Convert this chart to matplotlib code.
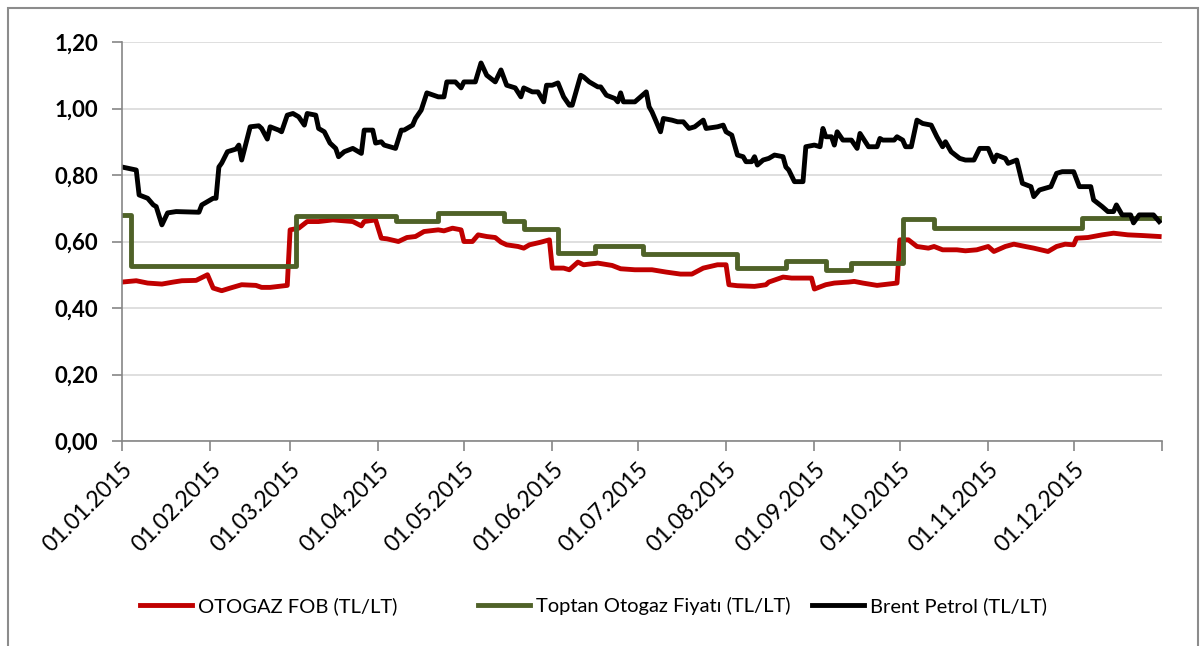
import numpy as np
import pandas as pd
import matplotlib
matplotlib.use("Agg")
import matplotlib.pyplot as plt
from matplotlib.patches import Rectangle

# gun sayisi (01.01.2015'ten itibaren) ve degerler
fob_gun = [0, 5, 9, 14, 18, 21, 26, 30, 32, 35, 38, 42, 47, 49, 52, 58, 59, 62, 65, 69,
           74, 81, 84, 85, 89, 91, 93, 97, 100, 103, 106, 111, 113, 116, 119, 120, 123,
           125, 128, 131, 133, 135, 139, 141, 143, 147, 150, 151, 155, 157, 160, 162,
           167, 172, 175, 180, 186, 191, 196, 200, 204, 209, 212, 213, 216, 222, 226,
           227, 232, 235, 242, 243, 247, 250, 255, 257, 260, 265, 272, 273, 276, 279,
           283, 285, 288, 293, 296, 300, 304, 306, 310, 313, 317, 320, 325, 328, 331,
           334, 335, 339, 344, 348, 353, 358, 364]
fob_deger = [0.478, 0.482, 0.475, 0.472, 0.478, 0.482, 0.483, 0.500, 0.460, 0.452, 0.460,
             0.470, 0.468, 0.462, 0.462, 0.468, 0.635, 0.640, 0.660, 0.660, 0.665, 0.660,
             0.647, 0.660, 0.665, 0.610, 0.608, 0.600, 0.612, 0.615, 0.630, 0.635, 0.632,
             0.640, 0.635, 0.600, 0.600, 0.620, 0.615, 0.612, 0.598, 0.590, 0.585, 0.580,
             0.590, 0.598, 0.605, 0.520, 0.520, 0.515, 0.538, 0.530, 0.535, 0.528, 0.518,
             0.515, 0.515, 0.508, 0.502, 0.502, 0.520, 0.530, 0.530, 0.470, 0.467, 0.465,
             0.470, 0.478, 0.493, 0.490, 0.490, 0.457, 0.470, 0.475, 0.478, 0.480, 0.475,
             0.468, 0.475, 0.605, 0.605, 0.585, 0.580, 0.585, 0.575, 0.575, 0.572, 0.575,
             0.585, 0.570, 0.585, 0.592, 0.585, 0.580, 0.570, 0.585, 0.592, 0.590, 0.610,
             0.612, 0.620, 0.625, 0.620, 0.618, 0.615]

toptan_gun = [0, 3, 61, 96, 111, 134, 141, 153, 166, 183, 216, 233, 247, 256, 274, 285,
              337, 364]
toptan_deger = [0.680, 0.526, 0.677, 0.662, 0.686, 0.662, 0.638, 0.565, 0.587, 0.562,
                0.520, 0.542, 0.515, 0.535, 0.668, 0.641, 0.671, 0.671]

brent_gun = [0, 5, 6, 9, 11, 12, 14, 16, 19, 27, 28, 32, 33, 34, 35, 37, 40, 41, 42, 45,
             48, 49, 51, 52, 55, 56, 58, 60, 62, 64, 65, 68, 69, 71, 73, 75, 76, 78, 81,
             82, 84, 85, 88, 89, 91, 92, 96, 98, 99, 102, 103, 105, 107, 111, 113, 114,
             117, 119, 120, 124, 126, 128, 131, 133, 135, 138, 140, 141, 144, 146, 148,
             149, 151, 153, 155, 157, 158, 161, 162, 164, 167, 168, 170, 173, 174, 175,
             176, 180, 182, 184, 185, 186, 189, 190, 193, 195, 197, 199, 201, 204, 205,
             209, 211, 212, 214, 216, 218, 219, 221, 222, 223, 225, 227, 229, 232, 233,
             234, 236, 239, 240, 243, 245, 246, 247, 249, 250, 251, 253, 256, 258, 259,
             262, 265, 266, 267, 271, 272, 274, 275, 277, 279, 281, 284, 286, 288, 289,
             291, 294, 296, 299, 301, 304, 306, 307, 310, 311, 314, 316, 319, 320, 322,
             326, 328, 330, 334, 336, 340, 341, 344, 346, 348, 349, 351, 354, 355, 357,
             362, 364]
brent_deger = [0.824, 0.815, 0.740, 0.730, 0.710, 0.705, 0.650, 0.686, 0.690, 0.688,
               0.710, 0.730, 0.730, 0.824, 0.836, 0.870, 0.878, 0.890, 0.845, 0.945,
               0.948, 0.940, 0.908, 0.945, 0.935, 0.930, 0.980, 0.985, 0.975, 0.950,
               0.985, 0.980, 0.940, 0.930, 0.896, 0.880, 0.855, 0.870, 0.880, 0.875,
               0.865, 0.935, 0.935, 0.896, 0.900, 0.890, 0.880, 0.935, 0.935, 0.950,
               0.970, 0.995, 1.047, 1.035, 1.035, 1.080, 1.080, 1.062, 1.080, 1.080,
               1.137, 1.100, 1.080, 1.116, 1.070, 1.062, 1.035, 1.062, 1.050, 1.050,
               1.020, 1.070, 1.070, 1.077, 1.035, 1.010, 1.010, 1.100, 1.095, 1.080,
               1.065, 1.065, 1.040, 1.030, 1.020, 1.047, 1.020, 1.020, 1.035, 1.050,
               1.005, 0.990, 0.930, 0.970, 0.965, 0.960, 0.960, 0.940, 0.945, 0.965,
               0.940, 0.945, 0.950, 0.930, 0.920, 0.860, 0.855, 0.840, 0.840, 0.855,
               0.830, 0.845, 0.850, 0.860, 0.855, 0.824, 0.815, 0.780, 0.780, 0.885,
               0.890, 0.885, 0.940, 0.915, 0.915, 0.890, 0.930, 0.905, 0.905, 0.880,
               0.925, 0.885, 0.885, 0.910, 0.905, 0.905, 0.915, 0.905, 0.885, 0.885,
               0.965, 0.955, 0.950, 0.915, 0.885, 0.900, 0.870, 0.850, 0.845, 0.845,
               0.880, 0.880, 0.840, 0.860, 0.850, 0.835, 0.845, 0.775, 0.765, 0.735,
               0.755, 0.765, 0.805, 0.810, 0.810, 0.765, 0.765, 0.725, 0.705, 0.690,
               0.690, 0.710, 0.680, 0.680, 0.656, 0.680, 0.680, 0.660]

etiketler = ["OTOGAZ FOB (TL/LT)", "Toptan Otogaz Fiyatı (TL/LT)", "Brent Petrol (TL/LT)"]
renkler = ["#C00000", "#4F6228", "#000000"]

baslangic = np.datetime64("2015-01-01")


def tarih(gunler):
    return baslangic + np.array(gunler, dtype="timedelta64[D]")


plt.rcParams["font.family"] = ["Lato", "DejaVu Sans"]

fig = plt.figure(figsize=(12.04, 6.46), dpi=100)
ax = fig.add_axes([122 / 1204, 1 - 441 / 646, 1040 / 1204, 399 / 646])

ax.plot(tarih(fob_gun), fob_deger, color=renkler[0], lw=3.5, label=etiketler[0])
ax.plot(tarih(toptan_gun), toptan_deger, color=renkler[1], lw=3.5,
        drawstyle="steps-post", label=etiketler[1])
ax.plot(tarih(brent_gun), brent_deger, color=renkler[2], lw=3.5, label=etiketler[2])

ax.set_ylim(0, 1.2)
ax.set_yticks(np.arange(0, 1.21, 0.2))
ax.set_yticklabels([f"{v:.2f}".replace(".", ",") for v in np.arange(0, 1.21, 0.2)],
                   fontsize=16, fontweight="bold")
ax.grid(axis="y", color="#D9D9D9", lw=1.2)
ax.set_axisbelow(True)

aylar = pd.date_range("2015-01-01", "2016-01-01", freq="MS")
ax.set_xlim(aylar[0], aylar[-1])
ax.set_xticks(aylar)
ax.set_xticklabels([d.strftime("%d.%m.%Y") for d in aylar[:-1]] + [""],
                   rotation=45, ha="right", rotation_mode="anchor", fontsize=16.5)

for s in ["top", "right"]:
    ax.spines[s].set_visible(False)
for s in ["left", "bottom"]:
    ax.spines[s].set_color("#868686")
    ax.spines[s].set_linewidth(1.2)
ax.tick_params(axis="both", direction="out", length=7, color="#868686", width=1.2)
ax.tick_params(axis="y", pad=10)
ax.tick_params(axis="x", pad=6)

# lejant: uc ayri parca, Excel'deki gibi
handles = ax.get_lines()
for h, x0 in zip(handles, [140, 478, 812]):
    fig.legend([h], [h.get_label()], loc="center left",
               bbox_to_anchor=(x0 / 1204, 1 - 606 / 646), frameon=False,
               borderpad=0, borderaxespad=0, handlelength=2.6, handletextpad=0.3,
               fontsize=14.5)

fig.add_artist(Rectangle((8 / 1204, -0.01), 1190 / 1204, 1 - 8 / 646 + 0.01,
                         transform=fig.transFigure, fill=False,
                         edgecolor="#8C8C8C", lw=1.5))

fig.savefig("out.png", dpi=100)
